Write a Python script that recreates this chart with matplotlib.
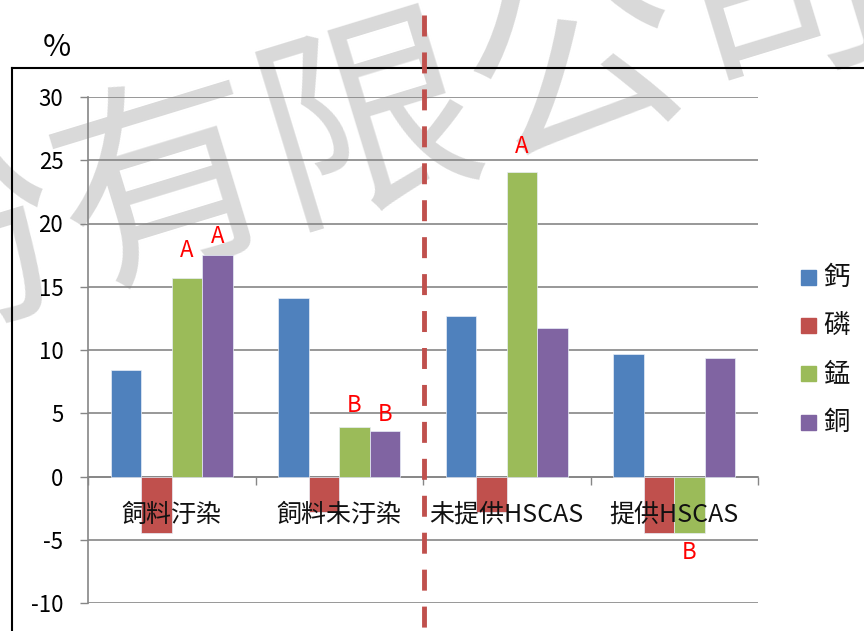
import matplotlib
matplotlib.use("Agg")
import matplotlib.pyplot as plt
from matplotlib.lines import Line2D
from matplotlib.patches import Rectangle
import numpy as np

plt.rcParams['font.family'] = ['Noto Sans CJK TC', 'DejaVu Sans']
plt.rcParams['lines.scale_dashes'] = False
plt.rcParams['axes.unicode_minus'] = False

# data
categories = ['飼料汙染', '飼料未汙染', '未提供HSCAS', '提供HSCAS']
series = ['鈣', '磷', '錳', '銅']
calcium = [8.4, 14.1, 12.7, 9.7]
phosphorus = [-4.5, -2.8, -2.8, -4.5]
manganese = [15.7, 3.9, 24.1, -4.5]
copper = [17.5, 3.6, 11.7, 9.4]
colors = ['#4f81bd', '#c0504d', '#9bbb59', '#8064a2']

# significance letters: (category index, series index, letter, y position)
letters = [(0, 2, 'A', 17.9), (0, 3, 'A', 18.95),
           (1, 2, 'B', 5.65), (1, 3, 'B', 4.9),
           (2, 2, 'A', 26.05), (3, 2, 'B', -6.0)]

W, H = 864, 631


def fx(x):
    return x / W


def fy(y):
    return 1 - y / H


fig = plt.figure(figsize=(W / 100, H / 100), dpi=100)

# watermark behind everything
fig.text(fx(372), fy(130), '份有限公司', fontsize=155, color='#d9d9d9',
         fontweight='light', rotation=17, rotation_mode='anchor',
         ha='center', va='center', zorder=-5)

ax = fig.add_axes([fx(88), fy(603), fx(758) - fx(88), fy(97) - fy(603)])
ax.set_facecolor('none')

values = [calcium, phosphorus, manganese, copper]
x = np.arange(len(categories))
w = 1 / 5.5
for i, (name, vals, c) in enumerate(zip(series, values, colors)):
    ax.bar(x + (i - 1.5) * w, vals, w, color=c, edgecolor='#e8eef7',
           linewidth=0.5, label=name, zorder=3)

for ci, si, letter, yv in letters:
    ax.text(ci + (si - 1.5) * w, yv, letter, color='#ff0000', fontsize=16,
            ha='center', va='center', zorder=4)

for i, lab in enumerate(categories):
    ax.text(i, -3.03, lab, ha='center', va='center', fontsize=18,
            color='#111111', zorder=5)

ax.set_xlim(-0.5, 3.5)
ax.set_ylim(-10, 30)
ax.set_yticks(np.arange(-10, 31, 5))
ax.yaxis.grid(True, color='#868686', linewidth=1.2, zorder=0)
ax.set_axisbelow(True)
ax.tick_params(axis='y', length=5.8, width=1, color='#868686', pad=12,
               labelsize=16)
ax.set_xticks(np.arange(-0.5, 3.6, 1))
ax.set_xticklabels([])
ax.tick_params(axis='x', length=5.5, width=1, color='#868686', direction='out')
for s in ['top', 'right']:
    ax.spines[s].set_visible(False)
ax.spines['left'].set_color('#868686')
ax.spines['left'].set_linewidth(1.2)
ax.spines['bottom'].set_position(('data', 0))
ax.spines['bottom'].set_color('#868686')
ax.spines['bottom'].set_linewidth(1.2)
ax.spines['bottom'].set_zorder(2)

# legend drawn by hand
for i, (name, c) in enumerate(zip(series, colors)):
    yc = 277.5 + i * 48.2
    fig.add_artist(Rectangle((fx(801), fy(yc + 7.5)), fx(15), 15 / H,
                             color=c, transform=fig.transFigure))
    fig.text(fx(823), fy(yc), name, fontsize=19, va='center', ha='left',
             color='#111111')

# outer frame and % unit
fig.add_artist(Line2D([fx(11.5), 1.0], [fy(67.5), fy(67.5)], color='black',
                      linewidth=1.5, transform=fig.transFigure, zorder=6))
fig.add_artist(Line2D([fx(11.5), fx(11.5)], [fy(67.5), 0], color='black',
                      linewidth=1.5, transform=fig.transFigure, zorder=6))
fig.text(fx(57), fy(48), '%', fontsize=22, ha='center', va='center')

# red dashed separator
sep = Line2D([fx(424), fx(424)], [fy(15), 0], color='#c0504d',
             linewidth=3.5, transform=fig.transFigure, zorder=7)
sep.set_dashes((15.1, 11.5))
fig.add_artist(sep)

fig.savefig('out.png', dpi=100)
